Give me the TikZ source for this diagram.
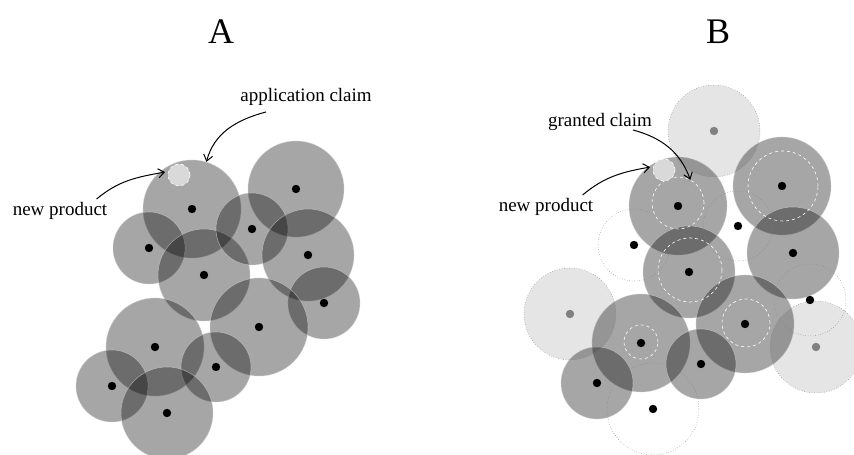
\documentclass[tikz,border=0pt]{standalone}
\usepackage{fontspec}
\setmainfont{Liberation Serif}
\usetikzlibrary{arrows.meta}

\begin{document}
\begin{tikzpicture}[x=1pt, y=1pt, line width=0.7pt,
    claim/.style={circle, inner sep=0pt, fill=black, fill opacity=0.35, draw=gray!40, draw opacity=0.6, line width=0.6pt},
    prior/.style={circle, inner sep=0pt, fill=black, fill opacity=0.1, draw=gray, dotted, line width=0.5pt},
    lapsed/.style={circle, inner sep=0pt, draw=gray, dotted, line width=0.5pt},
    narrowed/.style={circle, inner sep=0pt, draw=white, dashed, line width=0.6pt},
    product/.style={circle, inner sep=0pt, minimum size=22pt, fill=gray!30, draw=white, dashed, line width=0.6pt},
    panel/.style={font=\fontsize{36}{40}\selectfont},
    lbl/.style={inner sep=1pt, font=\fontsize{19}{22}\selectfont},
    pointer/.style={-{Straight Barb[length=6pt, width=9pt]}, line width=1pt}]
  \clip (0,0) rectangle (854,455);

  \node[panel] (titleA) at (221,423) {A};
  \node[panel] (titleB) at (718,423) {B};

  % A
  \foreach \n/\x/\y/\d in {1/192/246/98, 2/296/266/96, 3/149/207/72, 4/204/180/92,
      5/252/226/72, 6/308/200/92, 7/324/152/72, 8/259/128/98, 9/155/108/98,
      10/216/88/70, 11/112/69/72, 12/167/42/92}
    \node[claim, minimum size=\d pt] (a\n) at (\x,\y) {};
  \foreach \n in {1,...,12}
    \fill (a\n.center) circle[radius=4.2pt];
  \node[product] (prodA) at (179,280) {};

  \node[lbl] (claimA) at (306,358) {application claim};
  \node[lbl] (newA) at (60,244) {new product};
  \draw[pointer] ([xshift=-40pt,yshift=-5pt]claimA.south) to[out=195,in=75] (a1.73);
  \draw[pointer] ([xshift=-12pt,yshift=2pt]newA.north east) to[out=40,in=190] ([xshift=-3pt]prodA.165);

  % B
  \foreach \n/\x/\y/\d in {1/678/249/98, 2/782/269/98, 3/793/202/92, 4/689/183/92,
      5/745/131/98, 6/641/112/98, 7/701/91/70, 8/597/72/72}
    \node[claim, minimum size=\d pt] (b\n) at (\x,\y) {};
  \foreach \n/\x/\y/\d in {1/714/324/92, 2/570/141/92, 3/816/108/92}
    \node[prior, minimum size=\d pt] (l\n) at (\x,\y) {};
  \foreach \n/\x/\y/\d in {1/634/210/72, 2/738/229/70, 3/810/155/72, 4/653/46/92}
    \node[lapsed, minimum size=\d pt] (u\n) at (\x,\y) {};
  \foreach \n/\x/\y/\d in {1/678/252/52, 2/783/269/70, 3/690/185/64, 4/746/132/48, 5/641/113/34}
    \node[narrowed, minimum size=\d pt] (w\n) at (\x,\y) {};

  \foreach \n in {1,...,8}
    \fill (b\n.center) circle[radius=4.2pt];
  \foreach \n in {1,...,4}
    \fill (u\n.center) circle[radius=4.2pt];
  \foreach \n in {1,...,3}
    \fill[gray] (l\n.center) circle[radius=4.2pt];
  \node[product] (prodB) at (664,285) {};

  \node[lbl] (grantB) at (600,333) {granted claim};
  \node[lbl] (newB) at (546,248) {new product};
  \draw[pointer] ([xshift=33pt,yshift=2pt]grantB.south) to[out=-15,in=110] (w1.62);
  \draw[pointer] ([xshift=-12pt,yshift=2pt]newB.north east) to[out=40,in=190] ([xshift=-3pt]prodB.165);
\end{tikzpicture}
\end{document}
